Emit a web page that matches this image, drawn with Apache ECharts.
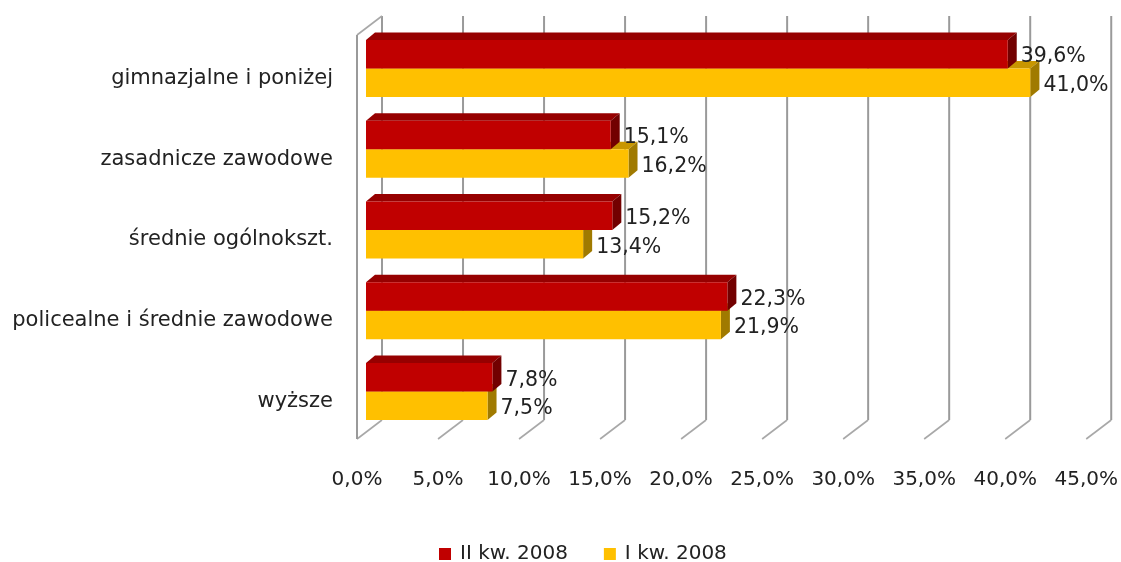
<!DOCTYPE html>
<html>
<head>
<meta charset="utf-8">
<script src="https://cdn.jsdelivr.net/npm/echarts@6/dist/echarts.min.js"></script>
<style>html,body{margin:0;padding:0;background:#fff;}#c{width:1121px;height:562px;}</style>
</head>
<body>
<div id="c"></div>
<script>
var categories = ['gimnazjalne i poniżej', 'zasadnicze zawodowe', 'średnie ogólnokszt.', 'policealne i średnie zawodowe', 'wyższe'];
var seriesNames = ['II kw. 2008', 'I kw. 2008'];
var q2 = [39.6, 15.1, 15.2, 22.3, 7.8];
var q1 = [41.0, 16.2, 13.4, 21.9, 7.5];
var ticks = [0, 5, 10, 15, 20, 25, 30, 35, 40, 45];

var DX = 9, DY = -7.5;     // bar depth
var BX = 16, BY = -12;     // back wall offset from bar plane
var FX = -9, FY = 7;       // front floor offset from bar plane
var BAR_H = 28.5;

function fmt(v) { return v.toFixed(1).replace('.', ',') + '%'; }

function barRender(colors, upper) {
  return function (params, api) {
    var cat = api.value(1), val = api.value(0);
    var c0 = api.coord([0, cat]);
    var c1 = api.coord([val, cat]);
    var x0 = c0[0], x1 = c1[0], yc = c0[1];
    var yt = upper ? yc - BAR_H : yc;
    var yb = upper ? yc : yc + BAR_H;
    return {
      type: 'group',
      children: [
        { type: 'polygon', shape: { points: [[x0, yt], [x1, yt], [x1 + DX, yt + DY], [x0 + DX, yt + DY]] }, style: { fill: colors.top } },
        { type: 'polygon', shape: { points: [[x1, yt], [x1 + DX, yt + DY], [x1 + DX, yb + DY], [x1, yb]] }, style: { fill: colors.side } },
        { type: 'rect', shape: { x: x0, y: yt, width: x1 - x0, height: yb - yt }, style: { fill: colors.front } },
        { type: 'text', x: x1 + DX + 4, y: (yt + yb) / 2 + 3, style: { text: fmt(val), fill: '#222', font: '20.5px "DejaVu Sans"', textAlign: 'left', textVerticalAlign: 'middle' } }
      ]
    };
  };
}

var chart = echarts.init(document.getElementById('c'), null, { renderer: 'canvas' });
chart.setOption({
  animation: false,
  backgroundColor: '#fff',
  grid: { left: 366, right: 25, top: 28, bottom: 130 },
  xAxis: {
    type: 'value', min: 0, max: 45, interval: 5,
    axisLine: { show: false }, axisTick: { show: false }, splitLine: { show: false },
    axisLabel: { margin: 38, padding: [0, 18, 0, 0], formatter: function (v) { return fmt(v); }, color: '#222', fontSize: 20, fontFamily: 'DejaVu Sans' }
  },
  yAxis: {
    type: 'category', data: categories, inverse: true,
    axisLine: { show: false }, axisTick: { show: false }, splitLine: { show: false },
    axisLabel: { margin: 33, verticalAlign: 'top', lineHeight: 20, color: '#222', fontSize: 21, fontFamily: 'DejaVu Sans' }
  },
  legend: {
    data: seriesNames, left: 434, top: 539, itemWidth: 12, itemHeight: 12, itemGap: 36, icon: 'rect',
    textStyle: { fontSize: 20, fontFamily: 'DejaVu Sans', color: '#222', padding: [0, 0, 0, 4] }
  },
  series: [
    {
      type: 'custom', name: 'walls', silent: true, z: 1,
      data: ticks.map(function (t) { return [t, 0]; }),
      renderItem: function (params, api) {
        var cs = params.coordSys;
        var x = api.coord([api.value(0), 0])[0];
        var top = cs.y, bot = cs.y + cs.height;
        var vstyle = { stroke: '#9a9a9a', lineWidth: 2, fill: null };
        var sstyle = { stroke: '#a8a8a8', lineWidth: 1.6, fill: null };
        var children = [
          { type: 'line', shape: { x1: x + BX, y1: top + BY, x2: x + BX, y2: bot + BY }, style: vstyle },
          { type: 'line', shape: { x1: x + BX, y1: bot + BY, x2: x + FX, y2: bot + FY }, style: sstyle }
        ];
        if (params.dataIndex === 0) {
          children.push({ type: 'line', shape: { x1: x + BX, y1: top + BY, x2: x + FX, y2: top + FY }, style: sstyle });
          children.push({ type: 'line', shape: { x1: x + FX, y1: top + FY, x2: x + FX, y2: bot + FY }, style: vstyle });
        }
        return { type: 'group', children: children };
      }
    },
    {
      type: 'custom', name: seriesNames[1], z: 2,
      itemStyle: { color: '#FFC000' },
      data: q1.map(function (v, i) { return [v, i]; }),
      encode: { x: 0, y: 1 },
      renderItem: barRender({ front: '#FFC000', top: '#C89600', side: '#A07A00' }, false)
    },
    {
      type: 'custom', name: seriesNames[0], z: 3,
      itemStyle: { color: '#C00000' },
      data: q2.map(function (v, i) { return [v, i]; }),
      encode: { x: 0, y: 1 },
      renderItem: barRender({ front: '#C00000', top: '#960000', side: '#720000' }, true)
    }
  ]
});
</script>
</body>
</html>
